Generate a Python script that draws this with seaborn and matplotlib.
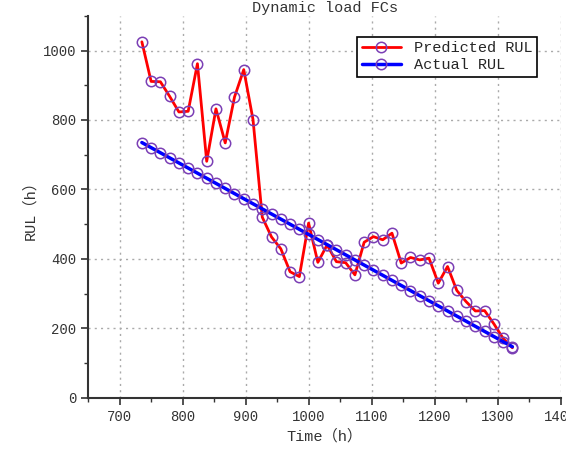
import matplotlib
matplotlib.use("Agg")
import matplotlib.pyplot as plt
from matplotlib.ticker import MultipleLocator
import seaborn as sns

# data
time_h = [735.0, 749.7, 764.4, 779.1, 793.8, 808.5, 823.2, 837.9, 852.6, 867.3,
          882.0, 896.7, 911.4, 926.1, 940.8, 955.5, 970.2, 984.9, 999.6, 1014.3,
          1029.0, 1043.7, 1058.4, 1073.1, 1087.8, 1102.5, 1117.2, 1131.9, 1146.6, 1161.3,
          1176.0, 1190.7, 1205.4, 1220.1, 1234.8, 1249.5, 1264.2, 1278.9, 1293.6, 1308.3,
          1323.0]
predicted_rul = [1025, 911, 910, 868, 823, 825, 962, 681, 832, 734,
                 866, 945, 801, 520, 463, 429, 363, 349, 503, 390,
                 440, 392, 389, 354, 448, 464, 455, 474, 388, 404,
                 397, 402, 330, 378, 309, 277, 250, 251, 213, 171,
                 144]
actual_rul = [735.0, 720.3, 705.6, 690.9, 676.2, 661.5, 646.8, 632.1, 617.4, 602.7,
              588.0, 573.3, 558.6, 543.9, 529.2, 514.5, 499.8, 485.1, 470.4, 455.7,
              441.0, 426.3, 411.6, 396.9, 382.2, 367.5, 352.8, 338.1, 323.4, 308.7,
              294.0, 279.3, 264.6, 249.9, 235.2, 220.5, 205.8, 191.1, 176.4, 161.7,
              147.0]

sns.set_style("ticks")
plt.rcParams['font.family'] = ['Liberation Mono', 'Noto Sans CJK SC', 'DejaVu Sans']

fig = plt.figure(figsize=(5.66, 4.51), dpi=100)
ax = fig.add_axes([0.156, 0.118, 0.835, 0.847])

marker_kw = dict(marker="o", markersize=7.5, markerfacecolor="none",
                 markeredgecolor="#7B3FB5", markeredgewidth=1.1)
sns.lineplot(x=time_h, y=predicted_rul, ax=ax, color="#FF0000", linewidth=2,
             label="Predicted RUL", **marker_kw)
sns.lineplot(x=time_h, y=actual_rul, ax=ax, color="#0000FF", linewidth=2.5,
             label="Actual RUL", **marker_kw)

ax.set_xlim(650, 1400)
ax.set_ylim(0, 1100)
ax.set_xticks(range(700, 1401, 100))
ax.set_yticks(range(0, 1001, 200))
ax.xaxis.set_minor_locator(MultipleLocator(50))
ax.yaxis.set_minor_locator(MultipleLocator(100))
ax.tick_params(which="major", length=5, width=1.2, labelsize=10, colors="#333333")
ax.tick_params(which="minor", length=3, width=1.0, colors="#333333")
ax.grid(True, which="major", linestyle=(0, (1.5, 3)), color="#aaaaaa", linewidth=1)

for side in ["top", "right"]:
    ax.spines[side].set_visible(False)
for side in ["left", "bottom"]:
    ax.spines[side].set_linewidth(1.5)
    ax.spines[side].set_color("#333333")

ax.set_title("Dynamic load FCs", fontsize=11, color="#333333", pad=3)
ax.set_xlabel("Time（h）", fontsize=11, color="#333333")
ax.set_ylabel("RUL（h）", fontsize=11, color="#333333")

leg = ax.legend(loc="upper right", bbox_to_anchor=(0.965, 0.965), fontsize=11,
                fancybox=False, edgecolor="black", framealpha=1,
                handlelength=2.6, borderpad=0.3, labelspacing=0.2)
leg.get_frame().set_linewidth(1.2)

fig.savefig("out.png", dpi=100)
